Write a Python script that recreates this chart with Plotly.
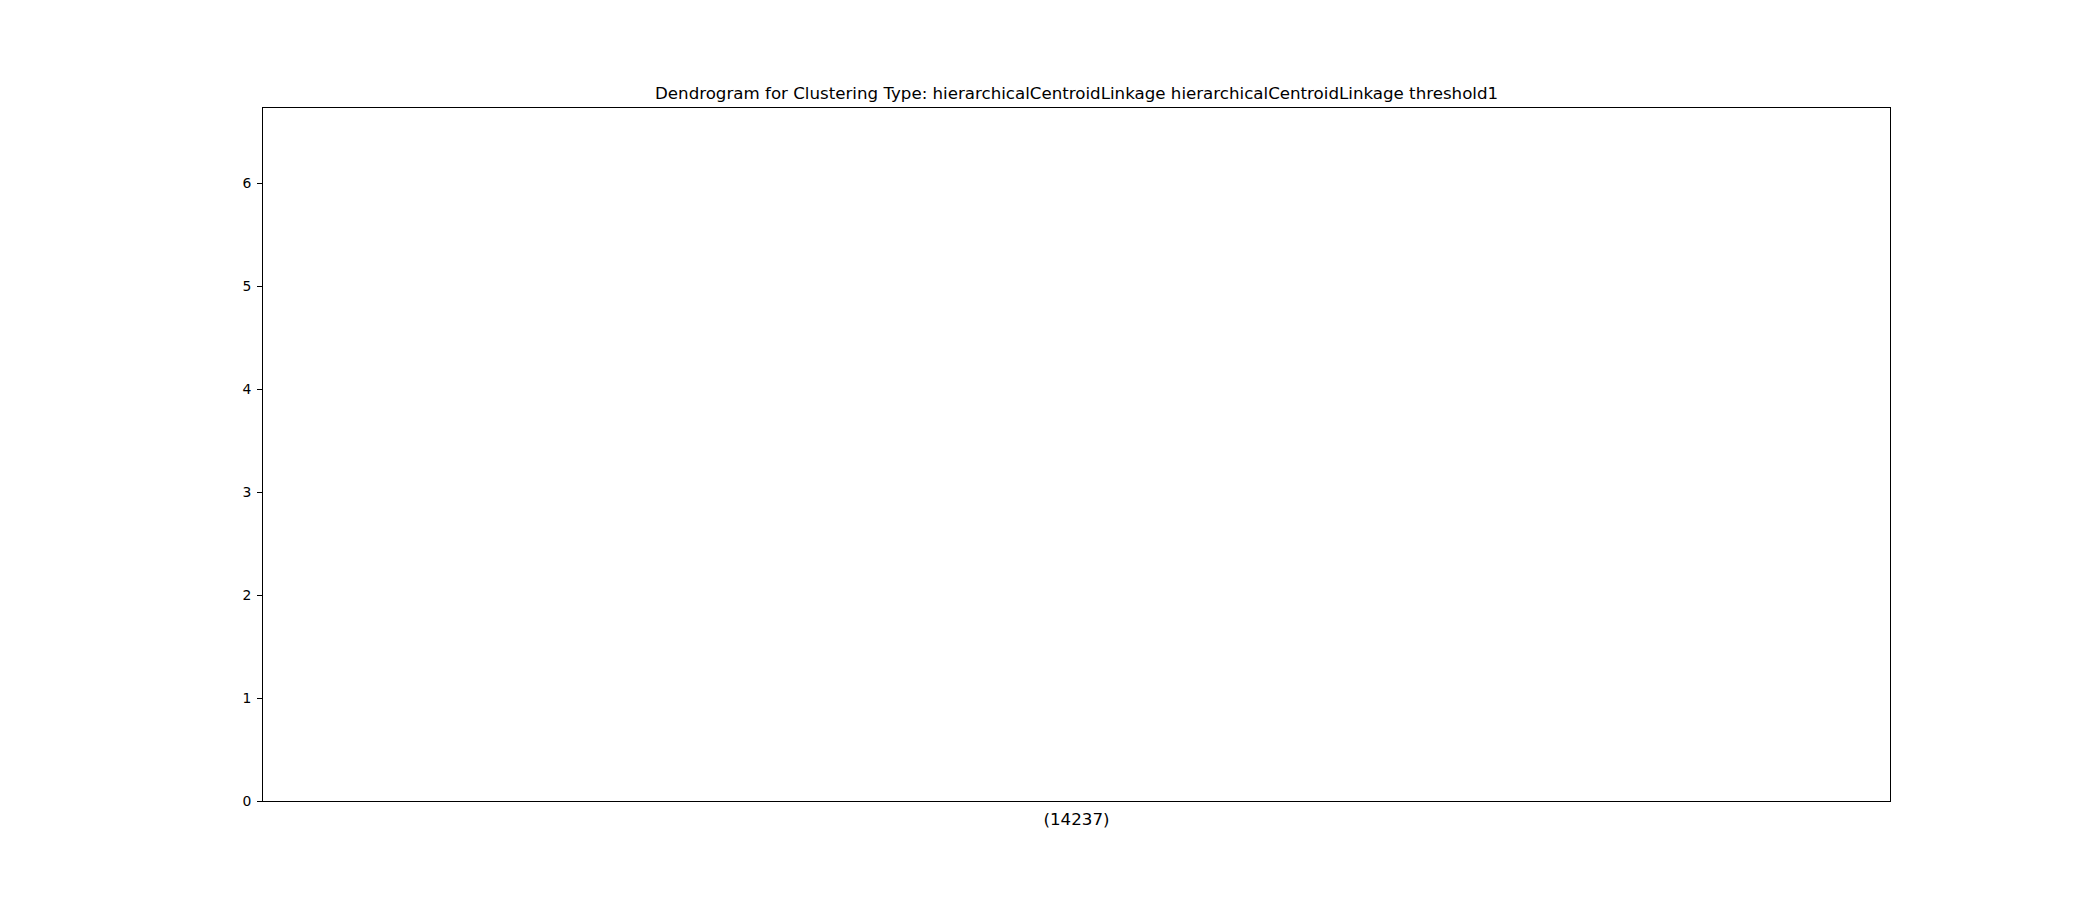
import plotly.graph_objects as go

# Data
leaf_positions = [5.0]
leaf_labels = ["(14237)"]
leaf_heights = [0.0]
y_max = 6.73
x_range = [0.0, 10.0]
title_text = "Dendrogram for Clustering Type: hierarchicalCentroidLinkage hierarchicalCentroidLinkage threshold1"

fig = go.Figure()
fig.add_trace(go.Scatter(
    x=leaf_positions, y=leaf_heights, mode="lines",
    line=dict(color="#1f77b4", width=1.5), showlegend=False, hoverinfo="skip",
))

fig.update_layout(
    width=2100, height=900, autosize=False,
    margin=dict(l=263, r=210, t=108, b=99, pad=0),
    paper_bgcolor="white", plot_bgcolor="white",
    font=dict(family="DejaVu Sans", color="black", size=14),
    showlegend=False,
    annotations=[dict(
        text=title_text, x=0.5, y=1, xref="paper", yref="paper",
        xanchor="center", yanchor="bottom", showarrow=False, yshift=3,
        font=dict(size=16.67, family="DejaVu Sans", color="black"),
    )],
)
fig.update_xaxes(
    range=x_range, tickvals=leaf_positions, ticktext=leaf_labels,
    ticks="", showgrid=False, zeroline=False,
    showline=True, mirror=True, linecolor="black", linewidth=1,
    ticklabelstandoff=3,
    tickfont=dict(size=16.67, family="DejaVu Sans", color="black"),
)
fig.update_yaxes(
    range=[0, y_max], dtick=1, tick0=0,
    ticks="outside", ticklen=5, tickwidth=1, tickcolor="black",
    showgrid=False, zeroline=False,
    showline=True, mirror=True, linecolor="black", linewidth=1,
    ticklabelstandoff=3,
    tickfont=dict(size=13.9, family="DejaVu Sans", color="black"),
)

fig.write_html("out.html")
